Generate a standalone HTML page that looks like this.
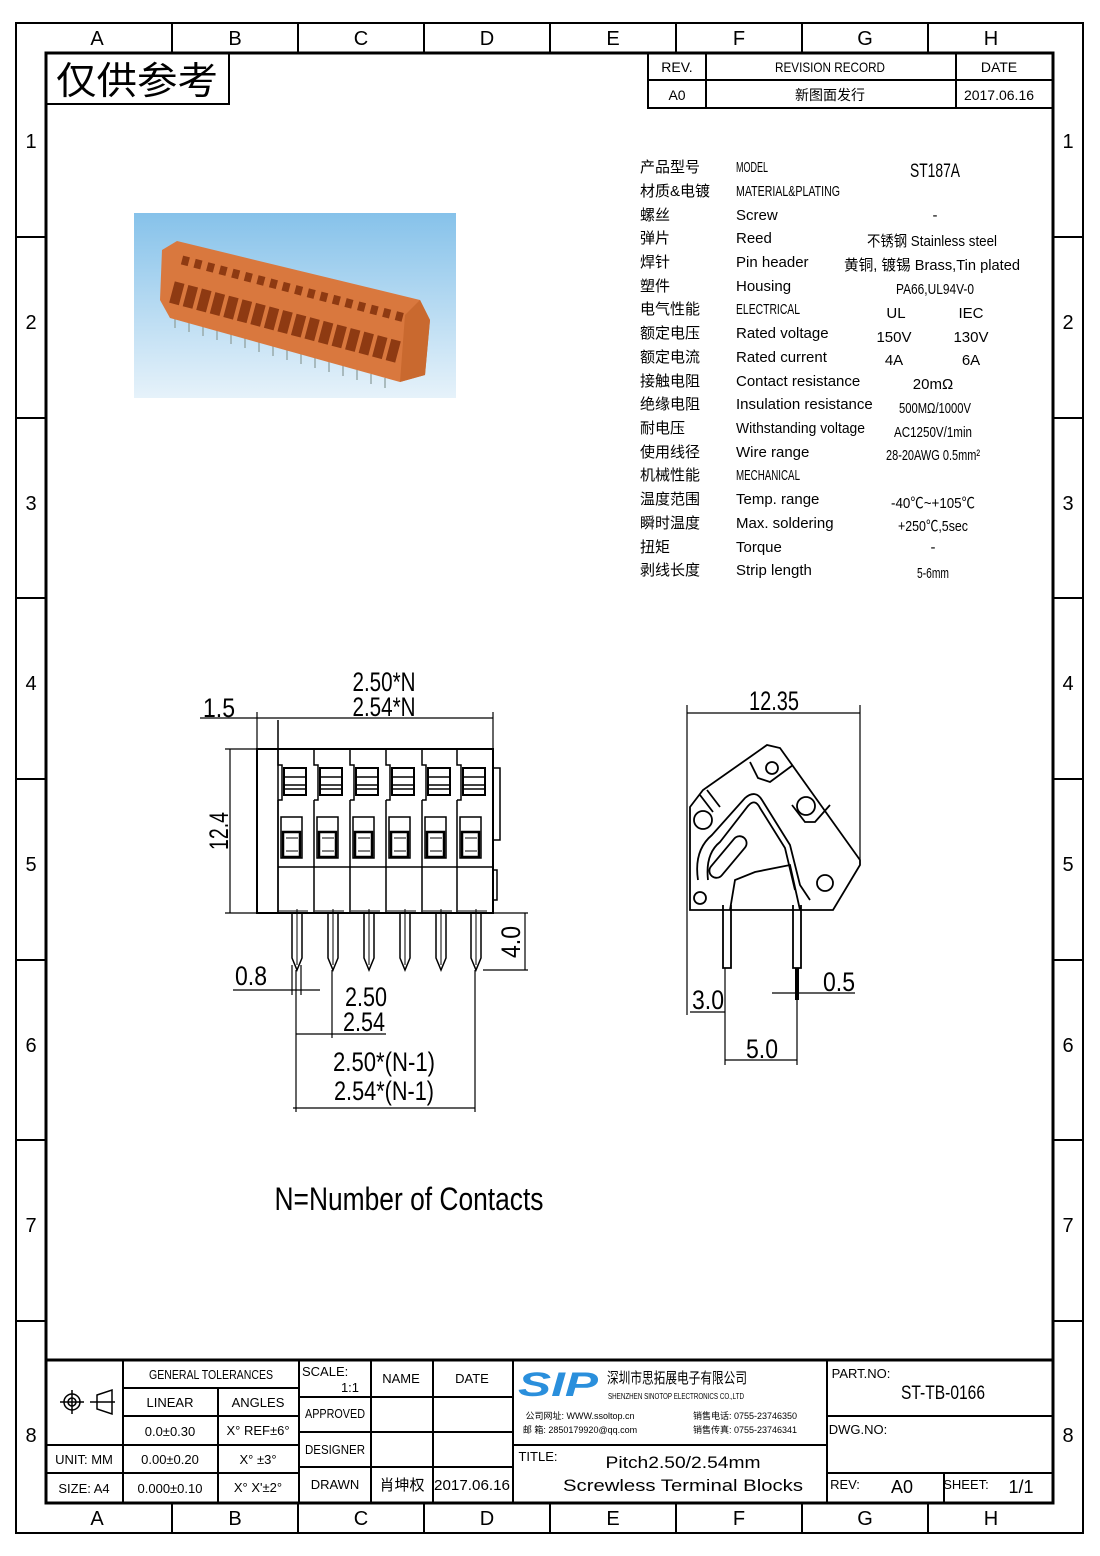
<!DOCTYPE html>
<html><head><meta charset="utf-8"><style>
html,body{margin:0;padding:0;background:#fff}
svg{display:block}
text{font-family:"Liberation Sans Narrow","Liberation Sans","Noto Sans CJK SC",sans-serif;fill:#000}
.c{font-family:"Liberation Sans Narrow","Liberation Sans","Noto Sans CJK SC",sans-serif}
</style></head><body>
<svg width="1100" height="1556" viewBox="0 0 1100 1556" xmlns="http://www.w3.org/2000/svg">
<defs>
<linearGradient id="bg" x1="0" y1="0" x2="0" y2="1"><stop offset="0" stop-color="#86c2ea"/><stop offset="1" stop-color="#e6f2fa"/></linearGradient>
<g id="cell">
<path d="M0 749 V765 H4 V800 H0 M0 800 V913" fill="none" stroke="#000" stroke-width="1.5"/>
<rect x="6" y="768" width="22" height="27" fill="none" stroke="#000" stroke-width="2"/>
<line x1="6" y1="777" x2="28" y2="777" stroke="#000" stroke-width="1.5"/>
<line x1="6" y1="785" x2="28" y2="785" stroke="#000" stroke-width="1.5"/>
<line x1="6" y1="789" x2="28" y2="789" stroke="#000" stroke-width="1.5"/>
<rect x="3" y="817" width="21" height="41" fill="none" stroke="#000" stroke-width="1.5"/>
<rect x="5" y="832" width="17" height="25" fill="none" stroke="#000" stroke-width="2.5"/>
<line x1="8" y1="838" x2="20" y2="838" stroke="#000" stroke-width="1"/>
<line x1="8" y1="851" x2="20" y2="851" stroke="#000" stroke-width="1"/>
<path d="M14 913 V958 L19 970 L24 958 V913" fill="none" stroke="#000" stroke-width="1.5"/>
<line x1="19" y1="909" x2="19" y2="965" stroke="#000" stroke-width="1"/>
<line x1="1" y1="911" x2="30" y2="911" stroke="#000" stroke-width="1"/>
</g>
</defs>
<rect x="16" y="23" width="1067" height="1510" fill="none" stroke="#000" stroke-width="2"/>
<rect x="46" y="53" width="1007" height="1450" fill="none" stroke="#000" stroke-width="3"/>
<g stroke="#000" stroke-width="2">
<line x1="172" y1="23" x2="172" y2="53"/><line x1="298" y1="23" x2="298" y2="53"/><line x1="424" y1="23" x2="424" y2="53"/><line x1="550" y1="23" x2="550" y2="53"/><line x1="676" y1="23" x2="676" y2="53"/><line x1="802" y1="23" x2="802" y2="53"/><line x1="928" y1="23" x2="928" y2="53"/>
<line x1="172" y1="1503" x2="172" y2="1533"/><line x1="298" y1="1503" x2="298" y2="1533"/><line x1="424" y1="1503" x2="424" y2="1533"/><line x1="550" y1="1503" x2="550" y2="1533"/><line x1="676" y1="1503" x2="676" y2="1533"/><line x1="802" y1="1503" x2="802" y2="1533"/><line x1="928" y1="1503" x2="928" y2="1533"/>
<line x1="16" y1="237" x2="46" y2="237"/><line x1="16" y1="418" x2="46" y2="418"/><line x1="16" y1="598" x2="46" y2="598"/><line x1="16" y1="779" x2="46" y2="779"/><line x1="16" y1="960" x2="46" y2="960"/><line x1="16" y1="1140" x2="46" y2="1140"/><line x1="16" y1="1321" x2="46" y2="1321"/>
<line x1="1053" y1="237" x2="1083" y2="237"/><line x1="1053" y1="418" x2="1083" y2="418"/><line x1="1053" y1="598" x2="1083" y2="598"/><line x1="1053" y1="779" x2="1083" y2="779"/><line x1="1053" y1="960" x2="1083" y2="960"/><line x1="1053" y1="1140" x2="1083" y2="1140"/><line x1="1053" y1="1321" x2="1083" y2="1321"/>
</g>
<g font-size="20" text-anchor="middle">
<text x="97" y="45">A</text><text x="235" y="45">B</text><text x="361" y="45">C</text><text x="487" y="45">D</text><text x="613" y="45">E</text><text x="739" y="45">F</text><text x="865" y="45">G</text><text x="991" y="45">H</text>
<text x="97" y="1525">A</text><text x="235" y="1525">B</text><text x="361" y="1525">C</text><text x="487" y="1525">D</text><text x="613" y="1525">E</text><text x="739" y="1525">F</text><text x="865" y="1525">G</text><text x="991" y="1525">H</text>
<text x="31" y="148">1</text><text x="31" y="329">2</text><text x="31" y="510">3</text><text x="31" y="690">4</text><text x="31" y="871">5</text><text x="31" y="1052">6</text><text x="31" y="1232">7</text><text x="31" y="1442">8</text>
<text x="1068" y="148">1</text><text x="1068" y="329">2</text><text x="1068" y="510">3</text><text x="1068" y="690">4</text><text x="1068" y="871">5</text><text x="1068" y="1052">6</text><text x="1068" y="1232">7</text><text x="1068" y="1442">8</text>
</g>
<rect x="46" y="53" width="183" height="51" fill="none" stroke="#000" stroke-width="2"/>
<text x="56" y="94" font-size="38" class="c" textLength="162" lengthAdjust="spacingAndGlyphs">仅供参考</text>
<g stroke="#000" stroke-width="2" fill="none">
<rect x="648" y="53" width="405" height="55"/><line x1="648" y1="80" x2="1053" y2="80"/><line x1="706" y1="53" x2="706" y2="108"/><line x1="956" y1="53" x2="956" y2="108"/>
</g>
<g font-size="14" text-anchor="middle">
<text x="677" y="72">REV.</text><text x="830" y="72" textLength="110" lengthAdjust="spacingAndGlyphs">REVISION RECORD</text><text x="999" y="72">DATE</text>
<text x="677" y="100">A0</text><text x="830" y="100">新图面发行</text><text x="999" y="100">2017.06.16</text>
</g>
<!-- photo -->
<rect x="134" y="213" width="322" height="185" fill="url(#bg)"/>
<g stroke="#9aa" stroke-width="1.5">
<line x1="175" y1="318" x2="175" y2="328"/><line x1="189" y1="322" x2="189" y2="332"/><line x1="203" y1="326" x2="203" y2="336"/><line x1="217" y1="330" x2="217" y2="340"/><line x1="231" y1="334" x2="231" y2="344"/><line x1="245" y1="338" x2="245" y2="348"/><line x1="259" y1="342" x2="259" y2="352"/><line x1="273" y1="346" x2="273" y2="356"/><line x1="287" y1="350" x2="287" y2="360"/><line x1="301" y1="354" x2="301" y2="364"/><line x1="315" y1="358" x2="315" y2="368"/><line x1="329" y1="362" x2="329" y2="372"/><line x1="343" y1="366" x2="343" y2="376"/><line x1="357" y1="370" x2="357" y2="380"/><line x1="371" y1="374" x2="371" y2="384"/><line x1="385" y1="378" x2="385" y2="388"/>
</g>
<path d="M177 241 L420 300 L430 320 L425 375 L400 382 L170 318 L160 300 L162 250 Z" fill="#d9783e"/>
<path d="M420 300 L430 320 L425 375 L400 382 L405 315 Z" fill="#c9692f"/>
<g stroke="#8e3a12" stroke-width="9" stroke-dasharray="7 6"><line x1="182" y1="260" x2="405" y2="318"/></g>
<g stroke="#8e3a12" stroke-width="22" stroke-dasharray="10 4"><line x1="172" y1="292" x2="398" y2="352"/></g>
<!-- spec table -->
<g font-size="15">
<text x="640" y="172">产品型号</text><text x="736" y="172" textLength="32" lengthAdjust="spacingAndGlyphs">MODEL</text><text x="935" y="177" font-size="19" text-anchor="middle" textLength="50" lengthAdjust="spacingAndGlyphs">ST187A</text>
<text x="640" y="196">材质&amp;电镀</text><text x="736" y="196" textLength="104" lengthAdjust="spacingAndGlyphs">MATERIAL&amp;PLATING</text>
<text x="640" y="220">螺丝</text><text x="736" y="220">Screw</text><text x="935" y="220" text-anchor="middle">-</text>
<text x="640" y="243">弹片</text><text x="736" y="243">Reed</text><text x="932" y="246" text-anchor="middle" textLength="130" lengthAdjust="spacingAndGlyphs">不锈钢 Stainless steel</text>
<text x="640" y="267">焊针</text><text x="736" y="267">Pin header</text><text x="932" y="270" text-anchor="middle" textLength="176" lengthAdjust="spacingAndGlyphs">黄铜, 镀锡 Brass,Tin plated</text>
<text x="640" y="291">塑件</text><text x="736" y="291">Housing</text><text x="935" y="294" text-anchor="middle" textLength="78" lengthAdjust="spacingAndGlyphs">PA66,UL94V-0</text>
<text x="640" y="314">电气性能</text><text x="736" y="314" textLength="64" lengthAdjust="spacingAndGlyphs">ELECTRICAL</text><text x="896" y="318" text-anchor="middle">UL</text><text x="971" y="318" text-anchor="middle">IEC</text>
<text x="640" y="338">额定电压</text><text x="736" y="338">Rated voltage</text><text x="894" y="342" text-anchor="middle">150V</text><text x="971" y="342" text-anchor="middle">130V</text>
<text x="640" y="362">额定电流</text><text x="736" y="362">Rated current</text><text x="894" y="365" text-anchor="middle">4A</text><text x="971" y="365" text-anchor="middle">6A</text>
<text x="640" y="386">接触电阻</text><text x="736" y="386">Contact resistance</text><text x="933" y="389" text-anchor="middle">20mΩ</text>
<text x="640" y="409">绝缘电阻</text><text x="736" y="409">Insulation resistance</text><text x="935" y="413" text-anchor="middle" textLength="72" lengthAdjust="spacingAndGlyphs">500MΩ/1000V</text>
<text x="640" y="433">耐电压</text><text x="736" y="433" textLength="129" lengthAdjust="spacingAndGlyphs">Withstanding voltage</text><text x="933" y="437" text-anchor="middle" textLength="78" lengthAdjust="spacingAndGlyphs">AC1250V/1min</text>
<text x="640" y="457">使用线径</text><text x="736" y="457">Wire range</text><text x="933" y="460" text-anchor="middle" textLength="94" lengthAdjust="spacingAndGlyphs">28-20AWG 0.5mm²</text>
<text x="640" y="480">机械性能</text><text x="736" y="480" textLength="64" lengthAdjust="spacingAndGlyphs">MECHANICAL</text>
<text x="640" y="504">温度范围</text><text x="736" y="504">Temp. range</text><text x="933" y="508" text-anchor="middle" textLength="84" lengthAdjust="spacingAndGlyphs">-40℃~+105℃</text>
<text x="640" y="528">瞬时温度</text><text x="736" y="528">Max. soldering</text><text x="933" y="531" text-anchor="middle" textLength="70" lengthAdjust="spacingAndGlyphs">+250℃,5sec</text>
<text x="640" y="552">扭矩</text><text x="736" y="552">Torque</text><text x="933" y="552" text-anchor="middle">-</text>
<text x="640" y="575">剥线长度</text><text x="736" y="575">Strip length</text><text x="933" y="578" text-anchor="middle" textLength="32" lengthAdjust="spacingAndGlyphs">5-6mm</text>
</g>
<g stroke="#000" fill="none" stroke-width="1.5">
<rect x="257" y="749" width="236" height="164" stroke-width="2"/>
<line x1="278" y1="720" x2="278" y2="913"/>
<line x1="278" y1="867" x2="493" y2="867"/>
<path d="M493 768 H500 V840 H493 M493 870 H497 V900 H493"/>
</g>
<use href="#cell" x="278"/><use href="#cell" x="314"/><use href="#cell" x="350"/><use href="#cell" x="386"/><use href="#cell" x="422"/><use href="#cell" x="457"/>
<g stroke="#000" stroke-width="1.2" fill="none">
<line x1="200" y1="718" x2="493" y2="718"/><line x1="257" y1="712" x2="257" y2="749"/><line x1="493" y1="712" x2="493" y2="749"/>
<line x1="225" y1="749" x2="257" y2="749"/><line x1="225" y1="913" x2="257" y2="913"/><line x1="230" y1="749" x2="230" y2="913"/>
<line x1="483" y1="970" x2="528" y2="970"/><line x1="493" y1="913" x2="528" y2="913"/><line x1="525" y1="913" x2="525" y2="970"/>
<line x1="233" y1="990" x2="320" y2="990"/><line x1="292" y1="965" x2="292" y2="995"/><line x1="301" y1="965" x2="301" y2="995"/>
<line x1="296" y1="970" x2="296" y2="1112"/><line x1="332" y1="970" x2="332" y2="1038"/><line x1="296" y1="1034" x2="386" y2="1034"/>
<line x1="475" y1="970" x2="475" y2="1112"/><line x1="293" y1="1108" x2="475" y2="1108"/>
</g>
<g font-size="27" text-anchor="middle">
<text x="384" y="691" textLength="63" lengthAdjust="spacingAndGlyphs">2.50*N</text><text x="384" y="716" textLength="63" lengthAdjust="spacingAndGlyphs">2.54*N</text>
<text x="219" y="717" textLength="32" lengthAdjust="spacingAndGlyphs">1.5</text>
<text x="228" y="831" transform="rotate(-90 228 831)" textLength="38" lengthAdjust="spacingAndGlyphs">12.4</text>
<text x="520" y="942" transform="rotate(-90 520 942)" textLength="32" lengthAdjust="spacingAndGlyphs">4.0</text>
<text x="251" y="985" textLength="32" lengthAdjust="spacingAndGlyphs">0.8</text>
<text x="366" y="1006" textLength="42" lengthAdjust="spacingAndGlyphs">2.50</text><text x="364" y="1031" textLength="42" lengthAdjust="spacingAndGlyphs">2.54</text>
<text x="384" y="1071" textLength="102" lengthAdjust="spacingAndGlyphs">2.50*(N-1)</text><text x="384" y="1100" textLength="100" lengthAdjust="spacingAndGlyphs">2.54*(N-1)</text>
<text x="774" y="710" textLength="50" lengthAdjust="spacingAndGlyphs">12.35</text>
<text x="708" y="1009" textLength="32" lengthAdjust="spacingAndGlyphs">3.0</text><text x="762" y="1058" textLength="32" lengthAdjust="spacingAndGlyphs">5.0</text><text x="839" y="991" textLength="32" lengthAdjust="spacingAndGlyphs">0.5</text>
<text x="409" y="1210" font-size="32" textLength="269" lengthAdjust="spacingAndGlyphs">N=Number of Contacts</text>
</g>
<g stroke="#000" fill="none" stroke-width="1.8">
<path d="M690 910 V807 L703 790 L750 757 L767 745 L780 748 L860 860 L860 865 L833 910 Z"/>
<path d="M700 795 L713 812 M707 790 L720 807 M750 762 L758 778 L770 782 L793 765"/>
<path d="M792 805 L805 822 H815 L830 805"/>
<path d="M698 880 C695 860 700 845 712 835 L745 798 C752 792 758 793 762 800 L790 845 L800 885 L810 900"/>
<path d="M708 880 C706 862 710 850 720 842 L748 806 C753 800 757 802 760 808 L785 848 L795 890"/>
<rect x="703" y="850" width="50" height="14" rx="7" transform="rotate(-50 728 857)"/>
<path d="M730 910 L735 880 L755 872 L790 865 L800 910"/>
<circle cx="772" cy="768" r="6"/><circle cx="806" cy="806" r="9"/><circle cx="703" cy="820" r="9"/><circle cx="825" cy="883" r="8"/><circle cx="700" cy="898" r="6"/>
<path d="M723 905 V968 H731 V905 M793 905 V968 H801 V905"/>
<line x1="797" y1="968" x2="797" y2="1000" stroke-width="4"/>
</g>
<g stroke="#000" stroke-width="1.2">
<line x1="687" y1="713" x2="860" y2="713"/><line x1="687" y1="705" x2="687" y2="1015"/><line x1="860" y1="705" x2="860" y2="860"/>
<line x1="690" y1="1012" x2="725" y2="1012"/><line x1="725" y1="968" x2="725" y2="1065"/><line x1="797" y1="1000" x2="797" y2="1065"/>
<line x1="725" y1="1060" x2="797" y2="1060"/><line x1="772" y1="993" x2="855" y2="993"/>
</g>
<g stroke="#000" stroke-width="2" fill="none">
<line x1="46" y1="1360" x2="1053" y2="1360" stroke-width="3"/>
<line x1="123" y1="1360" x2="123" y2="1503"/><line x1="218" y1="1388" x2="218" y2="1503"/><line x1="299" y1="1360" x2="299" y2="1503"/>
<line x1="371" y1="1360" x2="371" y2="1503"/><line x1="433" y1="1360" x2="433" y2="1503"/><line x1="513" y1="1360" x2="513" y2="1503"/><line x1="827" y1="1360" x2="827" y2="1503"/>
<line x1="944" y1="1473" x2="944" y2="1503"/>
<line x1="123" y1="1388" x2="299" y2="1388"/><line x1="123" y1="1416" x2="299" y2="1416"/><line x1="46" y1="1445" x2="299" y2="1445"/><line x1="46" y1="1473" x2="299" y2="1473"/>
<line x1="299" y1="1397" x2="513" y2="1397"/><line x1="299" y1="1432" x2="513" y2="1432"/><line x1="299" y1="1467" x2="513" y2="1467"/>
<line x1="513" y1="1445" x2="827" y2="1445"/><line x1="827" y1="1416" x2="1053" y2="1416"/><line x1="827" y1="1473" x2="1053" y2="1473"/>
</g>
<g font-size="13" text-anchor="middle">
<text x="211" y="1379" textLength="124" lengthAdjust="spacingAndGlyphs">GENERAL TOLERANCES</text><text x="170" y="1407">LINEAR</text><text x="258" y="1407">ANGLES</text>
<text x="170" y="1436">0.0±0.30</text><text x="258" y="1435">X° REF±6°</text>
<text x="84" y="1464">UNIT: MM</text><text x="170" y="1464">0.00±0.20</text><text x="258" y="1464">X° ±3°</text>
<text x="84" y="1493">SIZE: A4</text><text x="170" y="1493">0.000±0.10</text><text x="258" y="1492">X° X'±2°</text>
<text x="302" y="1376" text-anchor="start">SCALE:</text><text x="350" y="1392">1:1</text>
<text x="401" y="1383">NAME</text><text x="472" y="1383">DATE</text>
<text x="335" y="1418" textLength="60" lengthAdjust="spacingAndGlyphs">APPROVED</text><text x="335" y="1454" textLength="60" lengthAdjust="spacingAndGlyphs">DESIGNER</text><text x="335" y="1489">DRAWN</text>
<text x="402" y="1490" font-size="15">肖坤权</text><text x="472" y="1490" font-size="15" textLength="76" lengthAdjust="spacingAndGlyphs">2017.06.16</text>
<text x="538" y="1461">TITLE:</text>
<text x="683" y="1468" font-size="17" textLength="155" lengthAdjust="spacingAndGlyphs">Pitch2.50/2.54mm</text><text x="683" y="1491" font-size="17" textLength="240" lengthAdjust="spacingAndGlyphs">Screwless Terminal Blocks</text>
<text x="861" y="1378">PART.NO:</text><text x="943" y="1399" font-size="19" textLength="84" lengthAdjust="spacingAndGlyphs">ST-TB-0166</text>
<text x="858" y="1434">DWG.NO:</text>
<text x="845" y="1489">REV:</text><text x="902" y="1493" font-size="18">A0</text>
<text x="966" y="1489">SHEET:</text><text x="1021" y="1493" font-size="18">1/1</text>
<text x="677" y="1383" font-size="15" textLength="140" lengthAdjust="spacingAndGlyphs">深圳市思拓展电子有限公司</text>
<text x="676" y="1399" font-size="8" textLength="136" lengthAdjust="spacingAndGlyphs">SHENZHEN SINOTOP ELECTRONICS CO.,LTD</text>
<text x="580" y="1419" font-size="9">公司网址: WWW.ssoltop.cn</text><text x="580" y="1433" font-size="9">邮 箱: 2850179920@qq.com</text>
<text x="745" y="1419" font-size="9">销售电话: 0755-23746350</text><text x="745" y="1433" font-size="9">销售传真: 0755-23746341</text>
</g>
<text x="518" y="1396" font-size="34" font-style="italic" font-weight="bold" style="fill:#2a8fdc" textLength="80" lengthAdjust="spacingAndGlyphs">SIP</text>
<g stroke="#000" stroke-width="1.5" fill="none">
<circle cx="72" cy="1402" r="8"/><circle cx="72" cy="1402" r="4"/><line x1="60" y1="1402" x2="84" y2="1402"/><line x1="72" y1="1390" x2="72" y2="1414"/>
<path d="M90 1402 H115 M97 1395 L112 1390 V1414 L97 1409 Z"/>
</g>
</svg>
</body></html>
